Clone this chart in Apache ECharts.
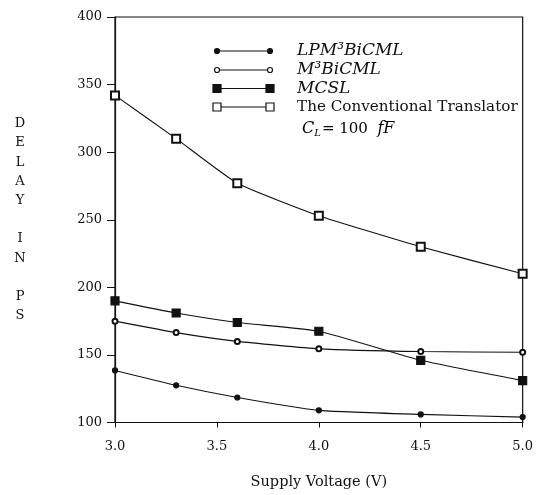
<!DOCTYPE html>
<html>
<head>
<meta charset="utf-8">
<script src="https://cdn.jsdelivr.net/npm/echarts@6/dist/echarts.min.js"></script>
<style>
  html, body { margin: 0; padding: 0; background: #fff; }
  #chart { width: 536px; height: 495px; }
</style>
</head>
<body>
<div id="chart"></div>
<script>
// supply voltage (V)
var voltages = [3.0, 3.3, 3.6, 4.0, 4.5, 5.0];
// delay in ps
var lpmBiCML = [138.5, 127.5, 118.5, 109, 106, 104];
var m3BiCML = [175, 166.5, 160, 154.5, 152.5, 152];
var mcsl = [190, 181, 174, 167.5, 146, 131];
var conventional = [342, 310, 277, 253, 230, 210];

var seriesNames = ["LPM³BiCML", "M³BiCML", "MCSL", "The Conventional Translator"];
var xTicks = [3.0, 3.5, 4.0, 4.5, 5.0];
var yTicks = [100, 150, 200, 250, 300, 350, 400];

var INK = "#111";
var SERIF = "'DejaVu Serif', 'Liberation Serif', serif";

function pairs(ys) {
  return voltages.map(function (x, i) { return [x, ys[i]]; });
}

// marker look per series: [symbol, size]
var markers = [
  ["circle", 5],
  ["emptyCircle", 5],
  ["rect", 8],
  ["emptyRect", 8]
];
var values = [lpmBiCML, m3BiCML, mcsl, conventional];

var series = values.map(function (ys, i) {
  return {
    name: seriesNames[i],
    type: "line",
    data: pairs(ys),
    smooth: 0.15,
    symbol: markers[i][0],
    symbolSize: markers[i][1],
    showAllSymbol: true,
    lineStyle: { color: INK, width: 1.1 },
    itemStyle: { color: INK, borderColor: INK, borderWidth: 1.2 },
    z: 3 + i
  };
});

// hand drawn legend: marker - line - marker, then the label
var legendY = [51, 70, 88.5, 107];
var graphics = [];
seriesNames.forEach(function (name, i) {
  var y = legendY[i];
  graphics.push({
    type: "line", z: 10,
    shape: { x1: 217, y1: y, x2: 270, y2: y },
    style: { stroke: INK, lineWidth: 1.1 }
  });
  [217, 270].forEach(function (x) {
    var sym = markers[i][0], s = markers[i][1];
    var filled = sym.indexOf("empty") < 0;
    var st = { fill: filled ? INK : "#fff", stroke: INK, lineWidth: 1.2 };
    if (sym.indexOf("ircle") >= 0) {
      graphics.push({ type: "circle", z: 11, shape: { cx: x, cy: y, r: s / 2 }, style: st });
    } else {
      graphics.push({ type: "rect", z: 11, shape: { x: x - s / 2, y: y - s / 2, width: s, height: s }, style: st });
    }
  });
  graphics.push({
    type: "text", z: 11, x: 297, y: y,
    style: {
      text: name,
      fill: INK,
      font: (i < 3 ? "italic 17px " : "15.2px ") + SERIF,
      verticalAlign: "middle"
    }
  });
});
// load capacitance note
graphics.push({
  type: "text", z: 11, x: 302, y: 129,
  style: {
    text: "{i|C}{s|L}{r|= 100  }{i|fF}",
    verticalAlign: "middle",
    rich: {
      i: { fontFamily: SERIF, fontStyle: "italic", fontSize: 16, color: INK },
      s: { fontFamily: SERIF, fontStyle: "italic", fontSize: 10, color: INK, padding: [9, 1, 0, 0] },
      r: { fontFamily: SERIF, fontSize: 15, color: INK }
    }
  }
});

var chart = echarts.init(document.getElementById("chart"), null, { renderer: "canvas" });
chart.setOption({
  backgroundColor: "#fff",
  animation: false,
  grid: {
    left: 115, right: 9, top: 17, bottom: 72,
    show: true, borderColor: INK, borderWidth: 1.2
  },
  xAxis: {
    type: "value",
    min: xTicks[0],
    max: xTicks[xTicks.length - 1],
    interval: 0.5,
    name: "Supply Voltage (V)",
    nameLocation: "middle",
    nameGap: 60,
    nameTextStyle: { fontFamily: SERIF, fontSize: 14.5, color: INK, verticalAlign: "middle" },
    axisLine: { lineStyle: { color: INK, width: 1.2 } },
    axisTick: { length: 5, lineStyle: { color: INK } },
    axisLabel: {
      margin: 18,
      fontFamily: SERIF, fontSize: 13, color: INK,
      formatter: function (v) { return v.toFixed(1); }
    },
    splitLine: { show: false }
  },
  yAxis: {
    type: "value",
    min: yTicks[0],
    max: yTicks[yTicks.length - 1],
    interval: 50,
    name: "D\nE\nL\nA\nY\n\nI\nN\n\nP\nS",
    nameLocation: "middle",
    nameRotate: 0,
    nameGap: 95,
    nameTextStyle: {
      fontFamily: SERIF, fontSize: 13, color: INK,
      lineHeight: 19.2, align: "center", verticalAlign: "middle"
    },
    axisLine: { lineStyle: { color: INK, width: 1.2 } },
    axisTick: { length: 8, lineStyle: { color: INK } },
    axisLabel: { margin: 13, fontFamily: SERIF, fontSize: 13, color: INK },
    splitLine: { show: false }
  },
  series: series,
  graphic: graphics
});
</script>
</body>
</html>
